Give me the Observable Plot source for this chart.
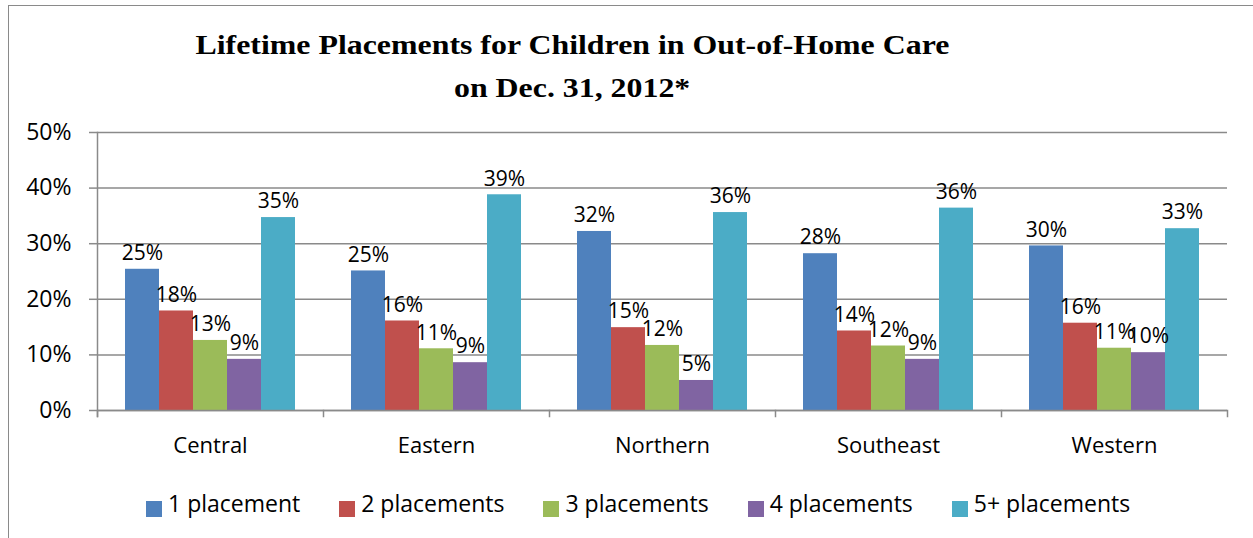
<!DOCTYPE html>
<html>
<head>
<meta charset="utf-8">
<script src="https://cdn.jsdelivr.net/npm/d3@7"></script>
<script src="https://cdn.jsdelivr.net/npm/@observablehq/plot@0.6"></script>
<style>
  html, body { margin: 0; padding: 0; background: #fff; }
  #page { position: relative; width: 1253px; height: 538px; overflow: hidden; background: #fff; }
  #border { position: absolute; left: 8px; top: 5px; right: -2px; bottom: -2px;
            border-left: 1.5px solid #8a8a8a; border-top: 1.5px solid #8a8a8a; }
  .title { position: absolute; left: 0; width: 1144px; text-align: center;
           font-family: "Liberation Serif", "Times New Roman", serif; font-weight: bold;
           font-size: 27px; line-height: 27px; color: #000; white-space: nowrap; }
  .title span { display: inline-block; transform: scaleX(1.18); transform-origin: center; }
  #chart { position: absolute; left: 0; top: 110px; }
  #legend { position: absolute; left: 146px; top: 488px; display: flex; gap: 39px;
            font-family: "Open Sans", sans-serif; font-size: 23px; line-height: 31px; color: #000; }
  .item { display: flex; align-items: flex-start; white-space: nowrap; }
  .swatch { width: 16px; height: 16px; margin-top: 13px; margin-right: 6px; }
</style>
</head>
<body>
<div id="page">
  <div id="border"></div>
  <div class="title" style="top:32px"><span>Lifetime Placements for Children in Out-of-Home Care</span></div>
  <div class="title" style="top:75px"><span>on Dec. 31, 2012*</span></div>
  <div id="chart"></div>
  <div id="legend"></div>
</div>
<script>
const regions = ["Central", "Eastern", "Northern", "Southeast", "Western"];
const series = ["1 placement", "2 placements", "3 placements", "4 placements", "5+ placements"];
const onePlacement = [25.4, 25.1, 32.2, 28.2, 29.6];
const twoPlacements = [17.9, 16.1, 14.9, 14.3, 15.7];
const threePlacements = [12.6, 11.1, 11.7, 11.6, 11.2];
const fourPlacements = [9.2, 8.6, 5.4, 9.2, 10.4];
const fivePlusPlacements = [34.7, 38.8, 35.6, 36.4, 32.7];
const seriesColors = ["#4F81BD", "#C0504D", "#9BBB59", "#8064A2", "#4BACC6"];
const yTicks = [0, 10, 20, 30, 40, 50];

const seriesValues = [onePlacement, twoPlacements, threePlacements, fourPlacements, fivePlusPlacements];
const data = [];
regions.forEach((region, i) => {
  series.forEach((s, j) => {
    data.push({region, series: s, value: seriesValues[j][i]});
  });
});

const gridColor = "#8a8a8a";
const W = 1253, H = 350, MT = 22, MB = 50, ML = 96, MR = 26;
const innerH = H - MT - MB;

const chart = Plot.plot({
  width: W, height: H,
  marginTop: MT, marginBottom: MB, marginLeft: ML, marginRight: MR,
  style: {fontFamily: "'Open Sans', sans-serif", background: "transparent", color: "black"},
  fx: {domain: regions, padding: 0, label: null, axis: null},
  x: {domain: series, paddingInner: 0, paddingOuter: 0.77, axis: null},
  y: {domain: [0, 50], axis: null},
  color: {domain: series, range: seriesColors},
  marks: [
    Plot.gridY(yTicks, {stroke: gridColor, strokeOpacity: 1, strokeWidth: 1.5}),
    Plot.axisY(yTicks, {tickSize: 8, tickPadding: 18, tickFormat: d => `${d}%`, fontSize: 23,
                        stroke: gridColor, strokeOpacity: 1, strokeWidth: 1.5, fill: "black", label: null}),
    Plot.barY(data, {fx: "region", x: "series", y: "value", fill: "series"}),
    Plot.frame({anchor: "left", facetAnchor: "left", insetBottom: -6, stroke: gridColor, strokeWidth: 1.5}),
    Plot.frame({anchor: "left", insetTop: innerH, insetBottom: -6, stroke: gridColor, strokeWidth: 1.5}),
    Plot.frame({anchor: "right", facetAnchor: "right", insetTop: innerH, insetBottom: -6, stroke: gridColor, strokeWidth: 1.5}),
    Plot.ruleY([0], {stroke: gridColor, strokeWidth: 1.5}),
    Plot.text(data, {fx: "region", x: "series", y: "value", text: d => `${Math.round(d.value)}%`,
                     dy: -16, fontSize: 21, fill: "black"}),
    Plot.axisFx({anchor: "bottom", tickSize: 0, tickPadding: 27, fontSize: 22, label: null, fill: "black"})
  ]
});
document.getElementById("chart").appendChild(chart);

const legend = document.getElementById("legend");
series.forEach((s, j) => {
  const item = document.createElement("div");
  item.className = "item";
  const sw = document.createElement("div");
  sw.className = "swatch";
  sw.style.background = seriesColors[j];
  const label = document.createElement("span");
  label.textContent = s;
  item.appendChild(sw);
  item.appendChild(label);
  legend.appendChild(item);
});
</script>
</body>
</html>
